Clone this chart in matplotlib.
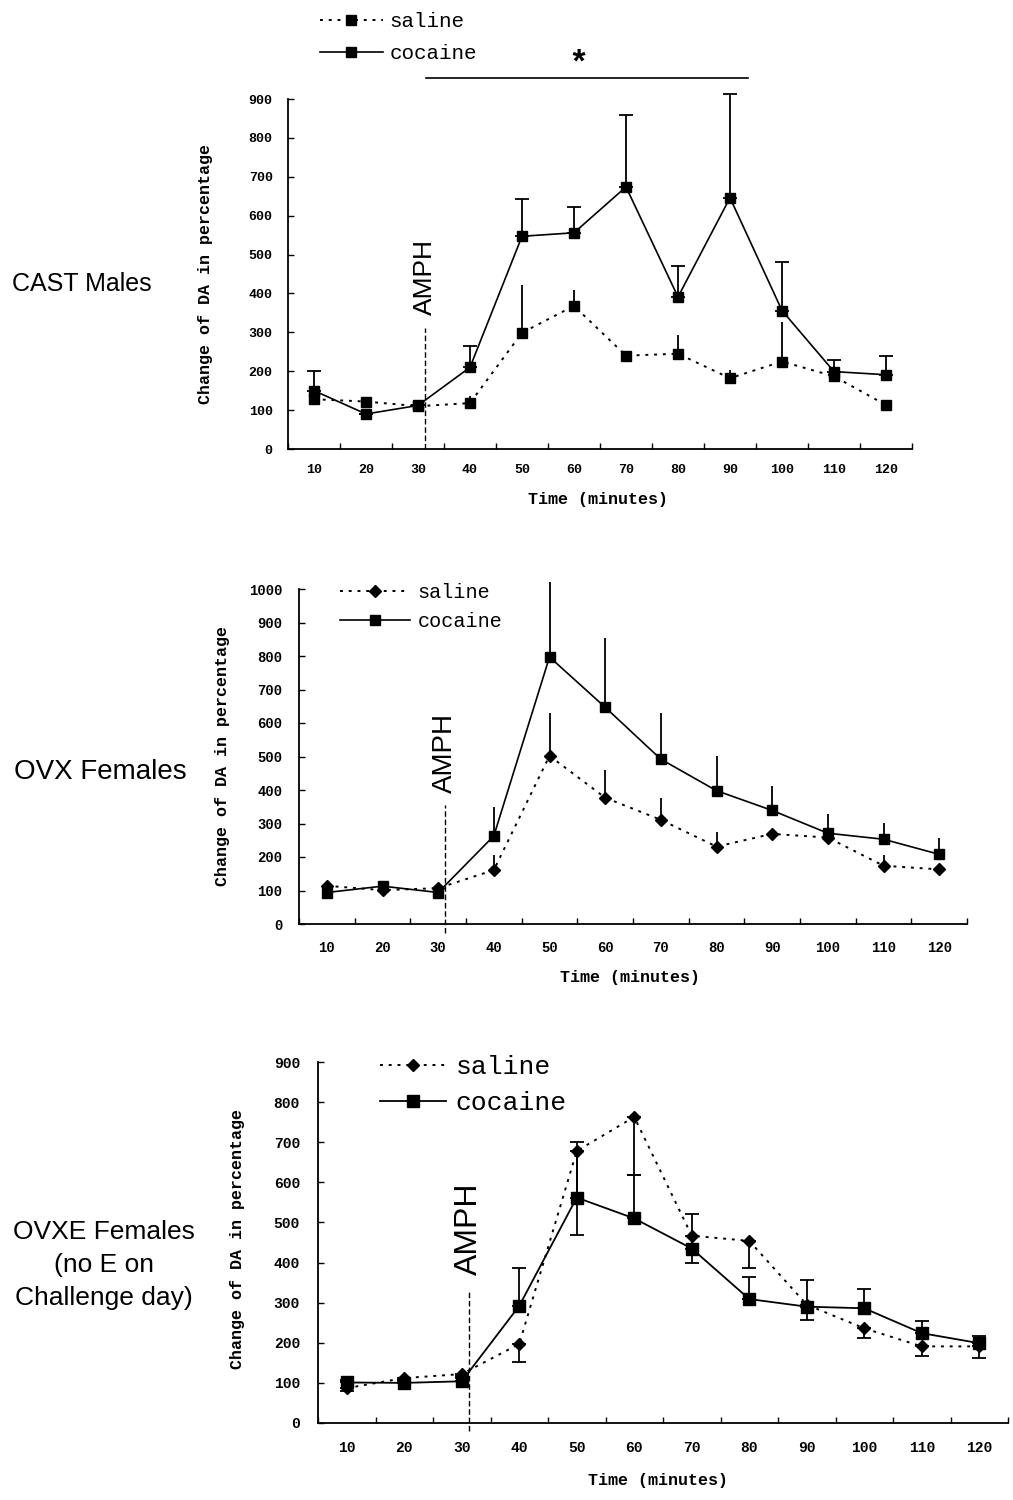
import numpy as np
import matplotlib
matplotlib.use("Agg")
import matplotlib.pyplot as plt

times = [10, 20, 30, 40, 50, 60, 70, 80, 90, 100, 110, 120]

# CAST males (upward error bars only)
cast_saline = [128, 122, 110, 118, 299, 368, 240, 245, 182, 225, 187, 113]
cast_saline_err = [0, 8, 0, 19, 124, 40, 13, 49, 20, 101, 0, 0]
cast_cocaine = [150, 90, 112, 210, 547, 556, 674, 391, 646, 356, 199, 191]
cast_cocaine_err = [50, 0, 0, 56, 95, 67, 185, 79, 267, 125, 31, 47]

# OVX females (upward error bars only)
ovx_saline = [114, 101, 107, 161, 502, 377, 311, 231, 269, 258, 174, 163]
ovx_saline_err = [0, 0, 0, 45, 127, 83, 64, 45, 0, 0, 32, 0]
ovx_cocaine = [94, 113, 94, 263, 797, 647, 492, 398, 339, 271, 253, 208]
ovx_cocaine_err = [0, 0, 0, 86, 225, 207, 137, 104, 74, 58, 48, 50]

# OVXE females (saline: minus bars, cocaine: plus bars)
ovxe_saline = [87, 112, 122, 197, 678, 763, 467, 454, 295, 236, 191, 191]
ovxe_saline_err = [8, 5, 5, 44, 209, 145, 69, 68, 39, 25, 23, 29]
ovxe_cocaine = [101, 100, 104, 292, 562, 510, 435, 309, 290, 286, 224, 199]
ovxe_cocaine_err = [5, 5, 8, 94, 138, 108, 85, 56, 67, 47, 31, 17]

amph_time = 31.3
mono = "Liberation Mono"
sans = "Liberation Sans"

fig = plt.figure(figsize=(10.13, 15), dpi=100)

W, H = 1013, 1500


def make_ax(left, right, bottom, top):
    return fig.add_axes([left / W, 1 - bottom / H, (right - left) / W, (bottom - top) / H])


def style_ax(ax, ymax, tick_fs, pad):
    ax.set_xlim(5, 125)
    ax.set_ylim(0, ymax)
    for s in ["top", "right"]:
        ax.spines[s].set_visible(False)
    for s in ["left", "bottom"]:
        ax.spines[s].set_linewidth(1.3)
    ax.set_xticks(np.arange(5, 126, 10))
    ax.set_xticklabels([])
    ax.set_xticks(times, minor=True)
    ax.set_xticklabels([str(t) for t in times], minor=True, family=mono,
                       fontsize=tick_fs, fontweight="bold")
    ax.tick_params(axis="x", which="major", direction="in", length=4, width=1)
    ax.tick_params(axis="x", which="minor", length=0, pad=pad)
    ax.set_yticks(np.arange(0, ymax + 1, 100))
    ax.set_yticklabels([str(v) for v in range(0, ymax + 1, 100)], family=mono,
                       fontsize=tick_fs, fontweight="bold")
    ax.tick_params(axis="y", direction="in", length=4, width=1, pad=pad)


def labels(ax, xl, yl, fs):
    ax.set_xlabel("Time (minutes)", family=mono, fontsize=fs, fontweight="bold")
    ax.xaxis.label.set_va("center")
    ax.xaxis.set_label_coords(*xl)
    ax.set_ylabel("Change of DA in percentage", family=mono, fontsize=fs,
                  fontweight="bold")
    ax.yaxis.label.set_va("center")
    ax.yaxis.set_label_coords(*yl)


def amph(ax, top, text_y, fs, bottom=0):
    ax.plot([amph_time, amph_time], [bottom, top], color="black", lw=1,
            ls=(0, (4, 2)), clip_on=False)
    ax.text(amph_time, text_y, "AMPH", rotation=90, ha="center", va="bottom",
            family=sans, fontsize=fs)


zeros = [0] * 12
dots = (0, (1.5, 3))

# ---- panel 1: CAST males
ax1 = make_ax(288, 912, 449, 99)
style_ax(ax1, 900, 9.5, 11)
ax1.errorbar(times, cast_saline, yerr=[zeros, cast_saline_err], fmt="none",
             ecolor="black", elinewidth=1.3, capsize=0, clip_on=False)
ax1.errorbar(times, cast_cocaine, yerr=[zeros, cast_cocaine_err], fmt="none",
             ecolor="black", elinewidth=1.3, capsize=5, capthick=1.3, clip_on=False)
l1, = ax1.plot(times, cast_saline, color="black", ls=dots, lw=1.4, marker="s",
               ms=7, label="saline", zorder=3, clip_on=False)
l2, = ax1.plot(times, cast_cocaine, color="black", ls="-", lw=1.2, marker="s",
               ms=7, label="cocaine", zorder=3, clip_on=False)
amph(ax1, 311, 344, 19)
labels(ax1, (0.497, -0.143), (-0.133, 0.5), 12)
ax1.plot([31.5, 93.5], [954, 954], color="black", lw=1.2, clip_on=False)
ax1.text(60.8, 990, "*", ha="center", va="center", family=mono,
         fontsize=24, fontweight="bold")
ax1.legend(handles=[l1, l2], loc="upper left", bbox_to_anchor=(320 / W, 1 - 12 / H),
           bbox_transform=fig.transFigure, frameon=False, handlelength=3.0,
           handletextpad=0.35, labelspacing=0.62, borderpad=0, borderaxespad=0,
           prop={"family": mono, "size": 15})
fig.text(82 / W, 1 - 284 / H, "CAST Males", ha="center", va="center",
         family=sans, fontsize=18)

# ---- panel 2: OVX females
ax2 = make_ax(299, 967, 924, 589)
style_ax(ax2, 1000, 10, 12)
ax2.errorbar(times, ovx_saline, yerr=[zeros, ovx_saline_err], fmt="none",
             ecolor="black", elinewidth=1.3, capsize=0, clip_on=False)
ax2.errorbar(times, ovx_cocaine, yerr=[zeros, ovx_cocaine_err], fmt="none",
             ecolor="black", elinewidth=1.3, capsize=0, clip_on=False)
l1, = ax2.plot(times, ovx_saline, color="black", ls=dots, lw=1.4, marker="D",
               ms=6, label="saline", zorder=3)
l2, = ax2.plot(times, ovx_cocaine, color="black", ls="-", lw=1.2, marker="s",
               ms=7.5, label="cocaine", zorder=3)
amph(ax2, 355, 390, 20, bottom=-28)
labels(ax2, (0.496, -0.161), (-0.115, 0.5), 12)
ax2.legend(handles=[l1, l2], loc="upper left", bbox_to_anchor=(340 / W, 1 - 583 / H),
           bbox_transform=fig.transFigure, frameon=False, handlelength=3.5,
           handletextpad=0.35, labelspacing=0.5, borderpad=0, borderaxespad=0,
           prop={"family": mono, "size": 14.5})
fig.text(100 / W, 1 - 772 / H, "OVX Females", ha="center", va="center",
         family=sans, fontsize=20)

# ---- panel 3: OVXE females
ax3 = make_ax(318, 1008, 1423, 1062)
style_ax(ax3, 900, 10.5, 13)
ax3.errorbar(times, ovxe_saline, yerr=[ovxe_saline_err, zeros], fmt="none",
             ecolor="black", elinewidth=1.3, capsize=5, capthick=1.3, clip_on=False)
ax3.errorbar(times, ovxe_cocaine, yerr=[zeros, ovxe_cocaine_err], fmt="none",
             ecolor="black", elinewidth=1.3, capsize=5, capthick=1.3, clip_on=False)
l1, = ax3.plot(times, ovxe_saline, color="black", ls=dots, lw=1.4, marker="D",
               ms=6.5, label="saline", zorder=3)
l2, = ax3.plot(times, ovxe_cocaine, color="black", ls="-", lw=1.3, marker="s",
               ms=8, label="cocaine", zorder=3)
amph(ax3, 332, 369, 23, bottom=-21)
labels(ax3, (0.493, -0.158), (-0.117, 0.51), 12)
ax3.legend(handles=[l1, l2], loc="upper left", bbox_to_anchor=(380 / W, 1 - 1055 / H),
           bbox_transform=fig.transFigure, frameon=False, handlelength=2.5,
           handletextpad=0.36, labelspacing=0.45, borderpad=0, borderaxespad=0,
           prop={"family": mono, "size": 19})
fig.text(104 / W, 1 - 1265 / H, "OVXE Females\n(no E on\nChallenge day)",
         ha="center", va="center", family=sans, fontsize=19, linespacing=1.45)

fig.savefig("out.png", dpi=100)
